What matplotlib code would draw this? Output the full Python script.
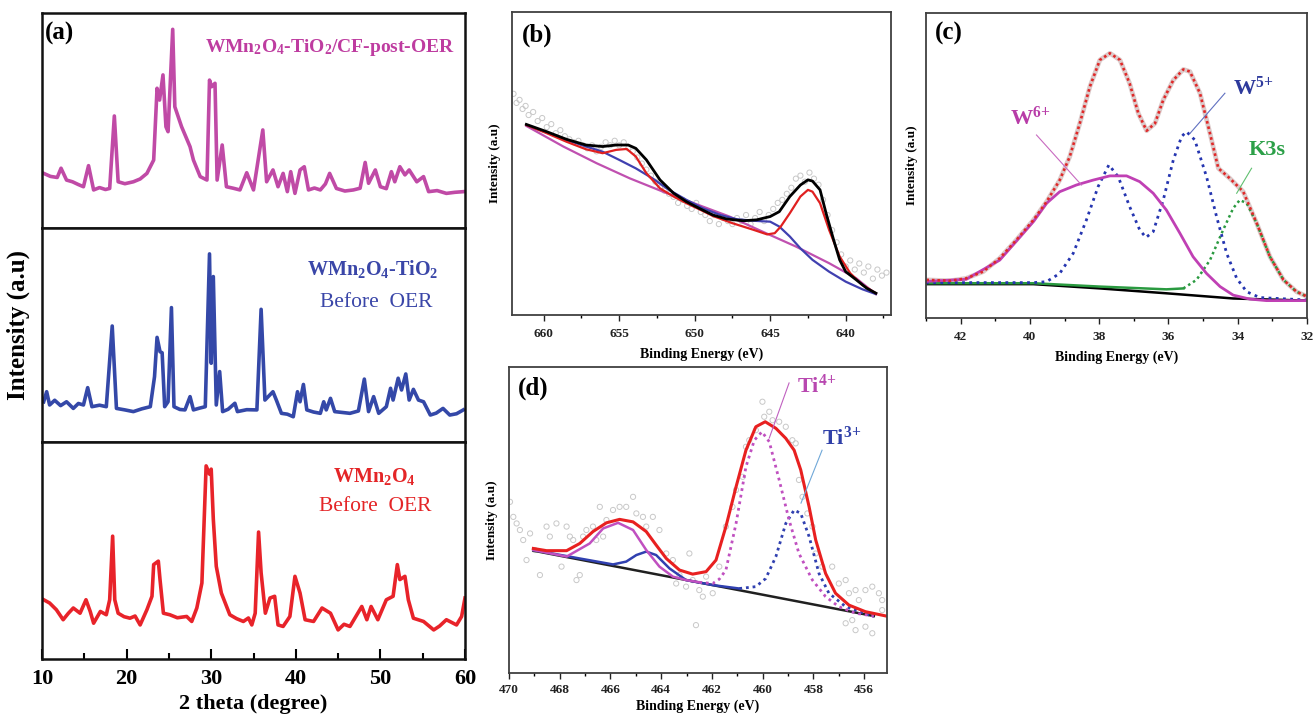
import numpy as np
import matplotlib
matplotlib.use("Agg")
import matplotlib.pyplot as plt
from matplotlib.ticker import MultipleLocator

plt.rcParams['font.family'] = ['Liberation Serif', 'DejaVu Serif']
plt.rcParams['font.weight'] = 'bold'
plt.rcParams['mathtext.fontset'] = 'custom'
plt.rcParams['mathtext.rm'] = 'Liberation Serif:bold'
plt.rcParams['mathtext.bf'] = 'Liberation Serif:bold'
plt.rcParams['mathtext.it'] = 'Liberation Serif:bold'

# ---------------- (a) XRD patterns ----------------
post_x = [10.2, 11.0, 11.8, 12.25, 12.9, 13.6, 14.3, 14.9, 15.5, 16.1, 16.8, 17.5, 18.0, 18.55, 19.0,
          19.8, 20.8, 21.6, 22.4, 23.2, 23.6, 23.9, 24.3, 24.65, 24.9, 25.45, 25.7, 26.5, 27.5, 27.9,
          28.7, 29.5, 29.8, 30.05, 30.45, 30.7, 31.3, 31.8, 32.6, 33.4, 34.2, 35.0, 36.1, 36.55, 37.3,
          37.9, 38.5, 39.0, 39.4, 39.9, 40.5, 41.0, 41.5, 42.2, 42.9, 43.5, 44.0, 44.8, 45.8, 46.8,
          47.6, 48.2, 48.6, 49.4, 50.0, 50.7, 51.3, 51.7, 52.3, 52.9, 53.4, 54.3, 55.1, 55.7, 56.7,
          57.8, 58.8, 59.8]
post_y = [25.4, 24.0, 23.5, 27.8, 22.3, 21.5, 20.2, 19.2, 29.0, 17.7, 18.8, 17.9, 18.4, 52.1, 21.5,
          20.6, 21.5, 22.8, 25.4, 31.6, 65.0, 59.5, 71.2, 47.1, 44.8, 92.4, 56.4, 47.1, 37.8, 31.6,
          23.9, 22.3, 68.8, 65.7, 67.3, 22.3, 38.6, 19.2, 18.5, 17.7, 25.7, 17.7, 45.6, 21.5, 27.0,
          19.2, 25.4, 16.9, 26.2, 16.1, 27.0, 28.5, 17.7, 18.6, 17.7, 20.5, 25.4, 18.4, 17.2, 17.7,
          18.5, 30.5, 20.8, 27.0, 19.2, 18.3, 26.2, 21.5, 28.5, 24.7, 27.0, 21.5, 23.9, 16.9, 17.4,
          16.1, 16.6, 16.9]

tio2_x = [10.2, 10.55, 10.9, 11.5, 12.2, 12.9, 13.7, 14.3, 14.9, 15.4, 15.9, 16.8, 17.6, 18.3, 18.8,
          19.8, 20.8, 21.8, 22.8, 23.3, 23.6, 23.95, 24.2, 24.5, 24.9, 25.3, 25.6, 26.3, 26.9, 27.5,
          27.9, 28.6, 29.3, 29.8, 30.0, 30.25, 30.6, 31.0, 31.35, 32.0, 32.8, 33.1, 34.2, 35.4, 35.9,
          36.35, 37.3, 37.7, 38.3, 39.0, 39.7, 40.2, 40.5, 40.9, 41.3, 42.1, 42.9, 43.3, 43.6, 44.1,
          44.6, 45.5, 46.4, 47.4, 48.1, 48.6, 49.2, 49.8, 50.7, 51.2, 51.5, 52.1, 52.5, 53.0, 53.4,
          53.9, 54.5, 55.1, 55.9, 56.6, 57.4, 58.2, 59.0, 59.8]
tio2_y = [18.8, 23.5, 17.3, 19.5, 17.0, 18.8, 15.7, 18.0, 17.3, 25.4, 16.5, 17.2, 16.5, 54.2, 15.7,
          15.0, 14.2, 15.5, 16.5, 30.5, 48.9, 42.2, 41.7, 16.5, 18.8, 62.8, 16.5, 15.2, 15.0, 21.2,
          15.0, 15.8, 16.5, 87.9, 36.8, 77.3, 17.3, 32.9, 14.2, 15.3, 18.1, 14.2, 15.1, 15.0, 62.0,
          19.6, 23.5, 19.6, 13.4, 13.0, 11.8, 23.5, 18.8, 26.9, 15.0, 14.0, 13.4, 18.8, 15.0, 20.4,
          14.2, 13.8, 13.4, 14.5, 29.4, 14.2, 21.2, 13.4, 16.5, 25.1, 19.6, 29.8, 24.3, 31.8, 19.6,
          24.6, 19.6, 18.8, 12.6, 13.5, 15.7, 12.6, 13.2, 15.0]

wmn_x = [10.2, 10.9, 11.7, 12.5, 13.1, 13.7, 14.5, 15.2, 15.7, 16.1, 16.9, 17.6, 18.0, 18.35, 18.6,
         19.0, 19.7, 20.4, 21.0, 21.6, 22.4, 23.0, 23.2, 23.75, 23.95, 24.35, 25.1, 26.0, 27.1, 27.7,
         28.3, 28.9, 29.4, 29.8, 30.0, 30.25, 30.6, 31.2, 32.2, 33.0, 33.8, 34.4, 34.8, 35.2, 35.6,
         35.9, 36.4, 36.95, 37.5, 37.9, 38.5, 39.3, 39.9, 40.5, 41.1, 42.1, 43.1, 44.1, 45.0, 45.7,
         46.4, 47.8, 48.4, 48.9, 49.7, 50.7, 51.5, 52.0, 52.3, 52.9, 53.3, 53.9, 55.1, 56.3, 57.0,
         57.8, 59.0, 59.6, 60.0]
wmn_y = [27.3, 25.8, 22.7, 18.1, 21.0, 23.5, 21.1, 27.3, 21.9, 16.5, 21.9, 20.4, 27.3, 56.6, 27.3,
         21.1, 19.5, 18.8, 19.8, 15.7, 22.7, 28.9, 43.5, 45.1, 36.6, 21.1, 20.4, 19.0, 19.6, 17.3,
         23.5, 35.0, 89.0, 85.2, 87.5, 64.4, 42.7, 30.4, 20.4, 18.6, 17.3, 18.9, 15.7, 21.1, 58.5,
         39.7, 21.1, 28.1, 28.9, 15.7, 15.0, 19.6, 38.1, 30.4, 18.1, 17.3, 23.5, 21.1, 13.4, 16.0,
         15.0, 24.2, 18.1, 24.2, 18.1, 27.3, 28.9, 43.5, 36.6, 38.1, 27.3, 18.8, 17.3, 13.4, 15.2,
         18.1, 15.7, 19.6, 28.1]

# ---------------- (b) Mn 2p ----------------
mn_env_x = [661.15, 659.8, 658.5, 657.2, 656.1, 655.2, 654.4, 653.9, 653.2, 652.3, 651.4, 650.55,
            649.7, 648.8, 647.9, 646.8, 645.9, 645.0, 644.4, 643.7, 643.0, 642.5, 642.2, 641.7,
            641.3, 640.8, 640.4, 640.0, 639.3, 638.6, 638.0]
mn_env_y = [62.9, 60.5, 58.0, 56.1, 55.6, 56.1, 56.1, 55.0, 51.2, 44.6, 40.2, 37.4, 35.2, 33.0,
            31.7, 31.1, 31.4, 32.5, 34.1, 39.1, 42.9, 44.6, 44.2, 41.3, 33.6, 24.8, 18.2, 14.3,
            11.6, 8.8, 7.2]
mn_red_x = [661.15, 659.8, 658.5, 657.2, 656.1, 655.2, 654.5, 653.9, 653.2, 652.3, 651.4, 650.55,
            649.7, 648.8, 647.5, 646.1, 645.2, 644.7, 644.3, 643.7, 643.0, 642.5, 642.2, 641.7,
            641.1, 640.4, 639.7, 638.9, 638.0]
mn_red_y = [62.7, 60.0, 57.2, 54.7, 53.4, 54.5, 54.8, 52.3, 46.8, 41.8, 39.1, 36.9, 34.9, 32.7,
            30.3, 28.1, 26.6, 27.0, 29.2, 33.6, 39.1, 41.3, 40.7, 36.9, 28.1, 19.3, 13.8, 9.9, 7.2]
mn_blue_x = [661.15, 659.8, 658.5, 657.2, 656.1, 655.0, 653.9, 652.8, 651.7, 650.55, 649.45, 648.3,
             647.2, 646.1, 645.0, 644.4, 643.7, 643.0, 642.2, 641.1, 640.0, 638.9, 638.0]
mn_blue_y = [62.7, 60.2, 57.8, 55.6, 53.9, 51.2, 48.4, 45.1, 41.3, 38.0, 35.2, 33.0, 31.6, 31.1,
             30.8, 29.2, 25.9, 22.0, 18.2, 14.3, 11.0, 8.5, 6.9]
mn_bg_x = [661.15, 658.7, 656.5, 654.3, 652.1, 649.9, 647.7, 645.5, 643.3, 641.1, 639.3, 638.0]
mn_bg_y = [62.4, 55.6, 50.1, 45.1, 40.7, 36.6, 32.5, 27.5, 22.6, 17.1, 12.1, 6.9]
mn_raw_x = [662.0, 661.8, 661.6, 661.4, 661.2, 661.0, 660.7, 660.4, 660.1, 659.8, 659.5, 659.2,
            658.9, 658.6, 658.3, 658.0, 657.7, 657.4, 657.1, 656.8, 656.5, 656.2, 655.9, 655.6,
            655.3, 655.0, 654.7, 654.4, 654.1, 653.8, 653.5, 653.2, 652.9, 652.6, 652.3, 652.0,
            651.7, 651.4, 651.1, 650.8, 650.5, 650.2, 649.9, 649.6, 649.3, 649.0, 648.7, 648.4,
            648.1, 647.8, 647.5, 647.2, 646.9, 646.6, 646.3, 646.0, 645.7, 645.4, 645.1, 644.8,
            644.5, 644.2, 643.9, 643.6, 643.3, 643.0, 642.7, 642.4, 642.1, 641.8, 641.5, 641.2,
            640.9, 640.6, 640.3, 640.0, 639.7, 639.4, 639.1, 638.8, 638.5, 638.2, 637.9, 637.6,
            637.3]
mn_raw_y = [73, 70, 71, 68, 69, 66, 67, 64, 65, 62, 63, 60, 61, 59, 58, 57, 57.5, 56, 55, 56, 54,
            55.5, 57, 56, 57.5, 56, 57, 55, 54, 52, 50, 48, 46, 44, 42, 41, 40, 39, 37, 38, 36, 35,
            37, 34, 33, 31, 33, 30, 32, 31, 30, 32, 31, 33, 30, 32, 34, 31, 33, 35, 37, 38, 40, 42,
            45, 46, 44, 47, 45, 43, 38, 33, 28, 24, 20, 16, 18, 15, 17, 14, 16, 12, 15, 13, 14]

# ---------------- (c) W 4f ----------------
w_env_x = [42.99, 42.3, 41.84, 41.35, 40.87, 40.39, 39.9, 39.52, 39.14, 38.85, 38.56, 38.27, 37.98,
           37.69, 37.4, 37.12, 36.87, 36.63, 36.39, 36.15, 35.86, 35.57, 35.38, 35.09, 34.8, 34.56,
           34.23, 33.84, 33.45, 33.07, 32.68, 32.3, 31.99]
w_env_y = [12.5, 12.2, 13.0, 15.2, 19.6, 25.6, 32.1, 38.1, 45.2, 52.9, 63.8, 75.8, 84.6, 86.8, 84.6,
           76.9, 67.1, 61.4, 63.8, 71.5, 78.0, 81.5, 80.8, 73.7, 60.5, 49.1, 45.8, 41.4, 31.0, 20.1,
           12.5, 8.6, 7.0]
w6_x = [42.99, 41.84, 40.87, 39.9, 39.52, 39.14, 38.66, 38.18, 37.69, 37.21, 36.83, 36.44, 36.06,
        35.67, 35.29, 34.9, 34.51, 34.13, 33.65, 33.17, 31.99]
w6_y = [12.0, 12.7, 19.0, 31.6, 37.6, 41.4, 43.6, 45.2, 46.6, 46.6, 44.7, 40.9, 35.4, 27.8, 20.1,
        14.6, 10.3, 7.5, 6.2, 5.7, 5.7]
w5_x = [43.0, 39.9, 39.52, 39.14, 38.75, 38.37, 38.03, 37.72, 37.45, 37.12, 36.83, 36.65, 36.44,
        36.15, 35.86, 35.62, 35.48, 35.24, 34.9, 34.61, 34.32, 34.03, 33.74, 33.36, 31.99]
w5_y = [11.6, 11.6, 11.9, 14.6, 21.2, 32.1, 43.1, 50.2, 46.3, 36.5, 28.9, 26.4, 28.3, 38.7, 51.8,
        59.5, 61.1, 58.4, 46.3, 33.2, 21.2, 13.0, 8.6, 6.7, 5.9]
k3s_x = [43.0, 39.9, 37.98, 36.06, 35.57, 35.19, 34.8, 34.42, 34.13, 33.94, 33.74, 33.45, 33.07,
         32.68, 32.3, 31.99]
k3s_y = [11.4, 11.4, 10.3, 9.4, 9.7, 12.5, 19.0, 28.9, 36.0, 38.7, 37.6, 31.0, 20.1, 12.5, 8.6, 7.0]
w_bg_x = [43.0, 39.9, 37.98, 36.06, 34.13, 31.99]
w_bg_y = [11.1, 11.1, 9.7, 8.1, 6.4, 5.7]

# ---------------- (d) Ti 2p ----------------
ti_env_x = [469.04, 468.52, 467.73, 467.21, 466.69, 466.16, 465.64, 465.11, 464.59, 464.2, 463.8,
            463.28, 462.76, 462.23, 461.84, 461.45, 461.05, 460.66, 460.27, 459.9, 459.48, 459.09,
            458.76, 458.5, 458.17, 457.91, 457.52, 457.13, 456.6, 455.95, 455.13]
ti_env_y = [39.8, 39.1, 39.1, 41.4, 45.2, 48.0, 49.1, 48.3, 45.2, 40.9, 36.6, 32.9, 31.6, 32.4,
            36.1, 46.8, 59.5, 71.2, 78.7, 80.3, 78.2, 75.0, 71.2, 64.9, 53.1, 42.5, 31.8, 25.5,
            21.7, 19.6, 18.2]
ti4_x = [469.04, 467.73, 466.82, 466.29, 465.7, 465.11, 464.59, 464.07, 463.54, 463.02, 462.5,
         461.97, 461.71, 461.45, 461.05, 460.66, 460.33, 460.03, 459.74, 459.35, 458.96, 458.57,
         458.04, 457.52, 457.0, 456.34, 455.62]
ti4_y = [39.3, 37.2, 41.4, 46.2, 48.0, 45.7, 39.3, 34.0, 30.8, 29.7, 29.0, 28.6, 30.0, 32.9, 47.8,
         65.9, 74.4, 77.1, 73.9, 61.7, 48.9, 38.2, 29.7, 24.4, 21.2, 19.1, 18.2]
ti3_x = [469.04, 467.21, 465.9, 465.38, 464.98, 464.59, 464.2, 463.67, 463.02, 461.97, 460.92,
         460.27, 459.88, 459.48, 459.09, 458.76, 458.5, 458.17, 457.78, 457.39, 456.73, 455.62]
ti3_y = [39.3, 36.6, 34.7, 35.6, 37.7, 38.8, 37.7, 33.4, 29.7, 28.1, 27.0, 27.6, 30.2, 37.2, 47.8,
         52.1, 51.0, 43.6, 31.8, 25.5, 21.2, 18.0]
ti_bg_x = [469.04, 455.62]
ti_bg_y = [39.1, 18.2]
ti_raw_x = [469.96, 469.83, 469.70, 469.57, 469.44, 469.31, 469.17, 468.98, 468.78, 468.52, 468.39,
            468.13, 467.93, 467.73, 467.60, 467.47, 467.34, 467.21, 467.08, 466.95, 466.69, 466.56,
            466.42, 466.29, 466.16, 465.90, 465.64, 465.38, 465.11, 464.98, 464.72, 464.59, 464.33,
            464.07, 463.80, 463.54, 463.41, 463.28, 463.02, 462.89, 462.76, 462.63, 462.50, 462.36,
            462.23, 461.97, 461.71, 461.45, 461.19, 461.05, 460.79, 460.66, 460.53, 460.27, 460.01,
            459.94, 459.74, 459.61, 459.35, 459.09, 458.83, 458.70, 458.57, 458.43, 458.24, 458.04,
            457.91, 457.65, 457.26, 457.00, 456.73, 456.60, 456.47, 456.34, 456.21, 455.95, 455.68,
            455.42, 455.29, 456.73, 455.95, 455.68, 456.34, 455.29]
ti_raw_y = [54.7, 49.9, 47.8, 45.7, 42.5, 36.1, 44.6, 39.3, 31.3, 46.8, 43.6, 47.8, 34.0, 46.8,
            43.6, 42.5, 29.7, 31.3, 43.6, 45.7, 46.8, 42.5, 53.1, 43.6, 48.9, 52.1, 53.1, 53.1,
            56.3, 51.0, 49.9, 46.8, 49.9, 45.7, 38.2, 36.1, 28.6, 31.3, 27.6, 38.2, 29.7, 15.3,
            26.5, 24.4, 30.8, 25.5, 34.0, 46.8, 53.1, 58.5, 62.7, 72.3, 74.4, 77.6, 86.7, 81.9,
            83.5, 80.8, 80.3, 78.7, 74.4, 73.4, 61.7, 56.3, 51.0, 46.8, 38.2, 34.0, 34.0, 28.6,
            29.7, 25.5, 16.9, 26.5, 23.3, 26.5, 27.6, 25.5, 23.3, 15.9, 14.8, 12.7, 13.7, 20.1]

W, H = 1314, 716
fig = plt.figure(figsize=(W / 100, H / 100), dpi=100)


def box(l, t, r, b):
    return [l / W, 1 - b / H, (r - l) / W, (b - t) / H]


def style_xps(ax, major, minor, pad=5.2, labelpad=5.5):
    for s in ax.spines.values():
        s.set_color('#404040')
        s.set_linewidth(1.3)
    ax.set_yticks([])
    ax.xaxis.set_major_locator(MultipleLocator(major))
    ax.xaxis.set_minor_locator(MultipleLocator(minor))
    ax.tick_params(axis='x', which='major', direction='out', length=4, width=1, labelsize=9.5,
                   pad=pad, colors='#222222')
    ax.tick_params(axis='x', which='minor', direction='out', length=2.5, width=1)
    for t in ax.get_xticklabels():
        t.set_fontweight('bold')
    ax.set_xlabel('Binding Energy (eV)', fontsize=10, fontweight='bold', labelpad=labelpad)


def ion(base, charge):
    # superscript charge, kept tight to the element symbol
    return base + r'$^{' + charge[0] + r'\!' + charge[1:] + r'}$'


# ---- panel (a)
mag, blu, red = '#c04aa6', '#3448a8', '#e8232a'
ax_top = fig.add_axes(box(42, 13, 465, 228))
ax_mid = fig.add_axes(box(42, 228, 465, 442))
ax_bot = fig.add_axes(box(42, 442, 465, 659))
for ax, xs, ys, c in [(ax_top, post_x, post_y, mag), (ax_mid, tio2_x, tio2_y, blu),
                      (ax_bot, wmn_x, wmn_y, red)]:
    ax.plot(xs, ys, color=c, lw=2.6, solid_joinstyle='round')
    ax.set_xlim(10, 60)
    ax.set_ylim(0, 100)
    ax.set_yticks([])
    for s in ax.spines.values():
        s.set_linewidth(1.8)
        s.set_color('#111111')
ax_top.set_xticks([])
ax_mid.set_xticks([])
ax_bot.xaxis.set_major_locator(MultipleLocator(10))
ax_bot.xaxis.set_minor_locator(MultipleLocator(5))
ax_bot.tick_params(axis='x', which='major', direction='in', length=7, width=1.5, labelsize=16,
                   pad=7.5)
ax_bot.tick_params(axis='x', which='minor', direction='in', length=4, width=1.5)
ax_bot.set_xlabel('2 theta (degree)', fontsize=16, fontweight='bold', labelpad=3.5)
fig.text(18 / W, 1 - 325 / H, 'Intensity (a.u)', rotation=90, fontsize=18, fontweight='bold',
         ha='center', va='center')

ax_top.text(0.007, 0.905, '(a)', transform=ax_top.transAxes, fontsize=18, fontweight='bold',
            ha='left', va='center')
ax_top.text(0.976, 0.82, r'WMn$_{2}$O$_{4}$-TiO$_{2}$/CF-post-OER',
            transform=ax_top.transAxes, fontsize=14, fontweight='bold', color='#be3ca0',
            ha='right', va='baseline')
ax_mid.text(0.783, 0.78, r'WMn$_{2}$O$_{4}$-TiO$_{2}$',
            transform=ax_mid.transAxes, fontsize=14.5, fontweight='bold', color='#3a46a8',
            ha='center', va='baseline')
ax_mid.text(0.79, 0.631, 'Before  OER', transform=ax_mid.transAxes, fontsize=15.5,
            fontweight='normal', color='#3a46a8', ha='center', va='baseline')
ax_bot.text(0.785, 0.815, r'WMn$_{2}$O$_{4}$', transform=ax_bot.transAxes,
            fontsize=14.5, fontweight='bold', color='#e42527', ha='center', va='baseline')
ax_bot.text(0.787, 0.681, 'Before  OER', transform=ax_bot.transAxes, fontsize=15.5,
            fontweight='normal', color='#e42527', ha='center', va='baseline')

# ---- panel (b)
axb = fig.add_axes(box(512, 12, 891, 315))
axb.scatter(mn_raw_x, mn_raw_y, s=14, facecolors='none', edgecolors='#c8c8c8', linewidths=0.7)
axb.plot(mn_bg_x, mn_bg_y, color='#c050b0', lw=1.6)
axb.plot(mn_blue_x, mn_blue_y, color='#4040b0', lw=1.6)
axb.plot(mn_red_x, mn_red_y, color='#e02020', lw=1.6)
axb.plot(mn_env_x, mn_env_y, color='black', lw=2.0)
axb.set_xlim(662.1, 637.0)
axb.set_ylim(0, 100)
style_xps(axb, 5, 2.5)
axb.text(0.026, 0.924, '(b)', transform=axb.transAxes, fontsize=18, fontweight='bold',
         ha='left', va='center')
fig.text(495 / W, 1 - 163 / H, 'Intensity (a.u)', rotation=90, fontsize=9.5, fontweight='bold',
         ha='center', va='center')

# ---- panel (c)
axc = fig.add_axes(box(926, 13, 1307, 318))
axc.plot(w_env_x, w_env_y, color='#dccaca', lw=3.4, solid_capstyle='round')
axc.plot(w_bg_x, w_bg_y, color='black', lw=1.8)
kx, ky = np.array(k3s_x), np.array(k3s_y)
axc.plot(kx[kx >= 35.57], ky[kx >= 35.57], color='#2a9a40', lw=1.8)
axc.plot(kx[kx <= 35.57], ky[kx <= 35.57], color='#2a9a40', lw=1.8, ls=(0, (1, 1.3)))
axc.plot(w5_x, w5_y, color='#2535b0', lw=2.0, ls=(0, (1, 1.6)))
axc.plot(w6_x, w6_y, color='#c040b4', lw=2.0)
axc.plot(w_env_x, w_env_y, color='#e02828', lw=1.9, ls=(0, (1, 1.1)))
axc.set_xlim(43.0, 32.0)
axc.set_ylim(0, 100)
style_xps(axc, 2, 1)
axc.text(0.024, 0.934, '(c)', transform=axc.transAxes, fontsize=18, fontweight='bold',
         ha='left', va='center')
axc.text(0.273, 0.633, ion('W', '6+'), transform=axc.transAxes, fontsize=16,
         fontweight='bold', color='#b83ca8', ha='center', va='baseline')
axc.text(0.858, 0.731, ion('W', '5+'), transform=axc.transAxes, fontsize=16,
         fontweight='bold', color='#2e3a9c', ha='center', va='baseline')
axc.text(0.895, 0.534, 'K3s', transform=axc.transAxes, fontsize=16, fontweight='bold',
         color='#2ca048', ha='center', va='baseline')
axc.plot([39.81, 38.51], [60.0, 43.6], color='#c86ac0', lw=0.8)
axc.plot([34.37, 35.38], [73.7, 60.5], color='#6070c0', lw=0.8)
axc.plot([33.6, 34.03], [49.1, 40.9], color='#60c070', lw=0.8)
fig.text(912 / W, 1 - 165 / H, 'Intensity (a.u)', rotation=90, fontsize=9.5, fontweight='bold',
         ha='center', va='center')

# ---- panel (d)
axd = fig.add_axes(box(509, 367, 887, 673))
axd.scatter(ti_raw_x, ti_raw_y, s=14, facecolors='none', edgecolors='#c8c8c8', linewidths=0.7)
axd.plot(ti_bg_x, ti_bg_y, color='#202020', lw=1.8)
t3x, t3y = np.array(ti3_x), np.array(ti3_y)
axd.plot(t3x[t3x >= 460.9], t3y[t3x >= 460.9], color='#3040b0', lw=1.8)
axd.plot(t3x[t3x <= 460.92], t3y[t3x <= 460.92], color='#3040b0', lw=2.0, ls=(0, (1, 1.4)))
t4x, t4y = np.array(ti4_x), np.array(ti4_y)
axd.plot(t4x[t4x >= 462.0], t4y[t4x >= 462.0], color='#c050c0', lw=1.8)
axd.plot(t4x[t4x <= 462.5], t4y[t4x <= 462.5], color='#c050c0', lw=2.0, ls=(0, (1, 1.4)))
axd.plot(ti_env_x, ti_env_y, color='#e82020', lw=2.2)
axd.set_xlim(470.0, 455.1)
axd.set_ylim(0, 97.8)
style_xps(axd, 2, 1, pad=3.8, labelpad=3.0)
axd.text(0.024, 0.931, '(d)', transform=axd.transAxes, fontsize=18, fontweight='bold',
         ha='left', va='center')
axd.text(0.815, 0.915, ion('Ti', '4+'), transform=axd.transAxes, fontsize=16,
         fontweight='bold', color='#b848b0', ha='center', va='baseline')
axd.text(0.881, 0.745, ion('Ti', '3+'), transform=axd.transAxes, fontsize=16,
         fontweight='bold', color='#3040a8', ha='center', va='baseline')
axd.plot([458.96, 459.74], [92.7, 75.1], color='#c060c0', lw=0.8)
axd.plot([457.66, 458.49], [71.2, 54.3], color='#70a8d8', lw=0.8)
fig.text(492 / W, 1 - 520 / H, 'Intensity (a.u)', rotation=90, fontsize=9.5, fontweight='bold',
         ha='center', va='center')

fig.savefig('out.png', dpi=100)
